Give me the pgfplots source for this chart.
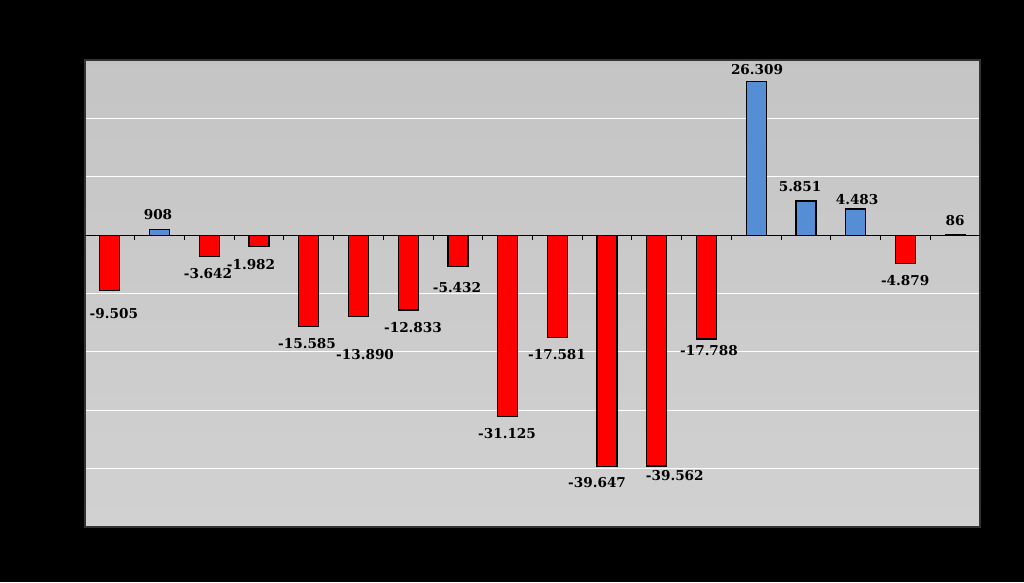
\documentclass[border=0pt]{standalone}
\usepackage{fontspec}
\setmainfont{DejaVu Serif}
\usepackage{pgfplots}
\pgfplotsset{compat=1.18}
\usepackage{pgfplotstable}
\definecolor{barred}{HTML}{FF0000}
\definecolor{barblue}{HTML}{558ED5}

\pgfplotstableread{
x y dx dy
0 -9505 4 22.5
2 -3642 -1.3 16.7
3 -1982 -8 17.4
4 -15585 -1.7 17
5 -13890 6.6 37.9
6 -12833 4.8 18
7 -5432 -0.9 20.3
8 -31125 -0.6 17.2
9 -17581 -0.3 16.3
10 -39647 -10 15.5
11 -39562 18 9
12 -17788 2.5 12
16 -4879 -0.3 16.5
}\negdata

\pgfplotstableread{
x y dx dy
1 908 -1.6 -15.7
13 26309 0.8 -12.4
14 5851 -5.9 -14.8
15 4483 1.4 -9.8
17 86 0 -14.5
}\posdata

\begin{document}
\begin{tikzpicture}
\fill[black] (0,0) rectangle (768pt,436.5pt);
\begin{axis}[
  at={(63.75pt,41.25pt)}, anchor=south west,
  scale only axis, width=671.25pt, height=350.25pt,
  xmin=-0.5, xmax=17.5, ymin=-50000, ymax=30000,
  ytick={-40000,-30000,...,20000}, yticklabels={},
  xtick=\empty, major tick length=0pt,
  ymajorgrids, grid style={white, line width=0.9pt},
  axis background/.style={top color=gray!46, bottom color=gray!36},
  axis line style={draw=gray!40!black, line width=0.8pt},
  ybar, bar width=15pt, bar shift=0pt,
  /pgf/number format/assume math mode=true,
  /pgf/number format/.cd, fixed, precision=0, 1000 sep={.},
  /pgfplots/.cd,
  nodes near coords,
  visualization depends on={\thisrow{dx} \as \dx},
  visualization depends on={\thisrow{dy} \as \dy},
]
\addplot[fill=barred, draw=black, line width=0.9pt,
  every node near coord/.append style={font=\bfseries\fontsize{10.2}{12}\selectfont, text=black, anchor=center, xshift=\dx*0.75pt, yshift=-\dy*0.75pt}]
  table[x=x, y=y] {\negdata};
\addplot[fill=barblue, draw=black, line width=0.9pt,
  every node near coord/.append style={font=\bfseries\fontsize{10.2}{12}\selectfont, text=black, anchor=center, xshift=\dx*0.75pt, yshift=-\dy*0.75pt}]
  table[x=x, y=y] {\posdata};
\draw[black, line width=0.8pt] (axis cs:-0.5,0) -- (axis cs:17.5,0);
\pgfplotsinvokeforeach{0,...,16}{\draw[black, line width=0.7pt] (axis cs:#1+0.5,0) -- ++(0pt,-3.5pt);}
\end{axis}
\end{tikzpicture}
\end{document}
